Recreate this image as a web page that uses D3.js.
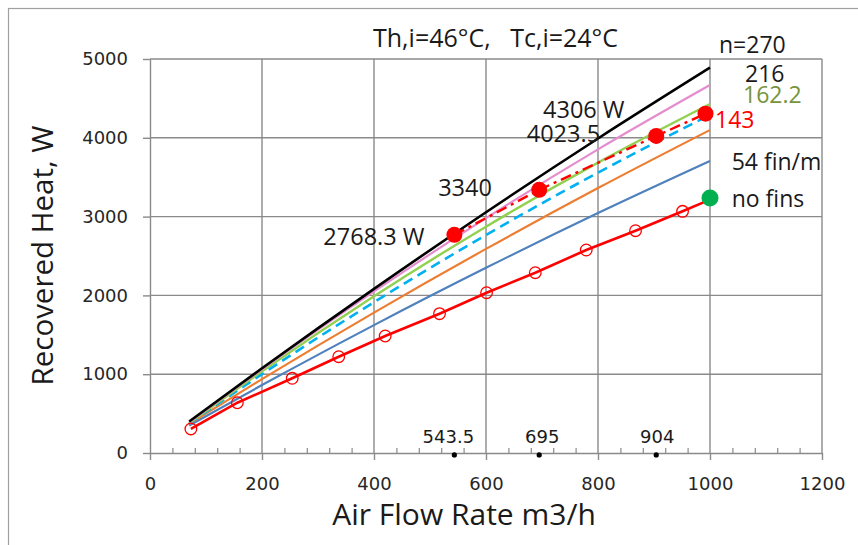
<!DOCTYPE html>
<html>
<head>
<meta charset="utf-8">
<script src="https://cdn.jsdelivr.net/npm/d3@7"></script>
<style>
  html, body { margin: 0; padding: 0; background: #fff; }
  svg { display: block; }
</style>
</head>
<body>
<svg id="chart" width="858" height="545"></svg>
<script>
// Axis ticks
const flowTicks = [0, 200, 400, 600, 800, 1000, 1200];
const heatTicks = [0, 1000, 2000, 3000, 4000, 5000];

// Model curves: recovered heat (W) vs air flow (m3/h) for each fin density
const airFlow  = [70, 200, 400, 600, 800, 1000];
const heat270  = [400, 1075, 2083, 3055, 3991, 4890];
const heat216  = [390, 1062, 2050, 2980, 3853, 4670];
const heat162  = [380, 1037, 1989, 2872, 3685, 4429];
const heat143  = [375, 1001, 1914, 2766, 3558, 4290];
const heatMid  = [370, 938, 1782, 2590, 3362, 4099];
const heat54   = [350, 862, 1623, 2350, 3045, 3706];

// Measured points, plain tube (no fins)
const noFinsFlow = [73, 156, 254, 337, 420, 517, 601, 688, 779, 867, 951];
const noFinsHeat = [305, 638, 948, 1222, 1485, 1768, 2034, 2288, 2576, 2821, 3067];
const noFinsEndFlow = [1000];
const noFinsEndHeat = [3215];
const noFinsRefFlow = [1000];
const noFinsRefHeat = [3236];

// Operating points for n = 143
const peakFlow = [543.5, 695, 904, 992];
const peakHeat = [2768.3, 3340, 4023.5, 4306];
const peakLabels = ["2768.3 W", "3340", "4023.5", "4306 W"];
const peakTrendFlow = [543.5, 695, 904, 992, 1000];
const peakTrendHeat = [2768.3, 3340, 4023.5, 4306, 4335];

// Flow-rate markers on the axis
const markFlow = [543.5, 695, 904];
const markHeat = [-25, -25, -25];
const markLabels = ["543.5", "695", "904"];

// Curve labels at the right end
const curveLabels = ["n=270", "216", "162.2", "143", "54 fin/m", "no fins"];

const svg = d3.select("#chart");
const W = 858, H = 545;
const x = d3.scaleLinear().domain([0, 1200]).range([150, 822]);
const y = d3.scaleLinear().domain([0, 5000]).range([453, 59]);

const gridColor = "#8a8a8a";
const tickFont = "'DejaVu Sans', Verdana, sans-serif";
const textFont = "'Open Sans', 'Liberation Sans', sans-serif";

// Frame
svg.append("rect").attr("x", 8.5).attr("y", 8.5).attr("width", W + 20).attr("height", H + 20)
  .attr("fill", "#fff").attr("stroke", "#a0a0a0").attr("stroke-width", 1.2);

// Grid
const grid = svg.append("g");
grid.selectAll("line.v").data(flowTicks.slice(1)).join("line")
  .attr("x1", d => x(d)).attr("x2", d => x(d))
  .attr("y1", y(5000)).attr("y2", y(0))
  .attr("stroke", gridColor).attr("stroke-width", 1.4);
grid.selectAll("line.h").data(heatTicks.slice(1)).join("line")
  .attr("x1", x(0)).attr("x2", x(1200))
  .attr("y1", d => y(d)).attr("y2", d => y(d))
  .attr("stroke", gridColor).attr("stroke-width", 1.4);

// Axes
function styleAxis(g) {
  g.select(".domain").attr("stroke", gridColor).attr("stroke-width", 1.4);
  g.selectAll(".tick line").attr("stroke", gridColor).attr("stroke-width", 1.4);
  g.selectAll(".tick text").attr("fill", "#262626")
    .style("font-family", tickFont).style("font-size", "18px");
}
svg.append("g").attr("transform", `translate(${x(0)},0)`)
  .call(d3.axisLeft(y).tickValues(heatTicks).tickFormat(d3.format("d"))
    .tickSize(7).tickPadding(15).tickSizeOuter(0))
  .call(styleAxis);
svg.append("g").attr("transform", `translate(0,${y(0)})`)
  .call(d3.axisBottom(x).tickValues(flowTicks).tickFormat(d3.format("d"))
    .tickSize(7).tickPadding(17).tickSizeOuter(0))
  .call(styleAxis);
// minor ticks pointing into the plot
svg.append("g").attr("transform", `translate(0,${y(0)})`)
  .call(d3.axisBottom(x).tickValues(d3.range(40, 1200, 40).filter(v => v % 200 !== 0))
    .tickSize(-5).tickFormat("").tickSizeOuter(0))
  .call(g => g.select(".domain").remove())
  .call(g => g.selectAll(".tick line").attr("stroke", gridColor).attr("stroke-width", 1.2));

// Model curves
const curves = [
  { h: heat54,  color: "#4f81bd", width: 2.2, dash: null },
  { h: heatMid, color: "#ed7d31", width: 2.2, dash: null },
  { h: heat143, color: "#00b0f0", width: 2.6, dash: "10,6" },
  { h: heat162, color: "#92d050", width: 2.4, dash: null },
  { h: heat216, color: "#e58ccf", width: 2.2, dash: null },
  { h: heat270, color: "#000000", width: 2.6, dash: null }
];
const line = d3.line().x(d => x(d[0])).y(d => y(d[1])).curve(d3.curveMonotoneX);
svg.append("g").selectAll("path").data(curves).join("path")
  .attr("d", c => line(airFlow.map((f, i) => [f, c.h[i]])))
  .attr("fill", "none").attr("stroke", c => c.color).attr("stroke-width", c => c.width)
  .attr("stroke-dasharray", c => c.dash);

// Operating-point trend (dash-dot)
svg.append("path")
  .attr("d", d3.line().x(d => x(d[0])).y(d => y(d[1]))(peakTrendFlow.map((f, i) => [f, peakTrendHeat[i]])))
  .attr("fill", "none").attr("stroke", "#ff0000").attr("stroke-width", 2.4)
  .attr("stroke-dasharray", "11,5,3,5");

// No-fins measured line and points
const noFinsLine = noFinsFlow.map((f, i) => [f, noFinsHeat[i]])
  .concat(noFinsEndFlow.map((f, i) => [f, noFinsEndHeat[i]]));
svg.append("path")
  .attr("d", d3.line().x(d => x(d[0])).y(d => y(d[1]))(noFinsLine))
  .attr("fill", "none").attr("stroke", "#ff0000").attr("stroke-width", 2.6);
svg.append("g").selectAll("circle").data(noFinsFlow.map((f, i) => [f, noFinsHeat[i]])).join("circle")
  .attr("cx", d => x(d[0])).attr("cy", d => y(d[1])).attr("r", 5.8)
  .attr("fill", "none").attr("stroke", "#ff0000").attr("stroke-width", 1.3);
svg.append("g").selectAll("circle").data(noFinsRefFlow.map((f, i) => [f, noFinsRefHeat[i]])).join("circle")
  .attr("cx", d => x(d[0])).attr("cy", d => y(d[1])).attr("r", 8.5)
  .attr("fill", "#00b050");

// Operating points
svg.append("g").selectAll("circle").data(peakFlow.map((f, i) => [f, peakHeat[i]])).join("circle")
  .attr("cx", d => x(d[0])).attr("cy", d => y(d[1])).attr("r", 8)
  .attr("fill", "#ff0000");

// Operating-point labels
const peakOffsets = [[-131, 10], [-101, 6], [-129.5, 6], [-162.5, 4.6]];
svg.append("g").selectAll("text").data(peakLabels).join("text")
  .attr("x", (d, i) => x(peakFlow[i]) + peakOffsets[i][0])
  .attr("y", (d, i) => y(peakHeat[i]) + peakOffsets[i][1])
  .text(d => d)
  .style("font-family", textFont).style("font-size", "23.5px").attr("fill", "#1a1a1a");

// Axis markers for the flow rates
svg.append("g").selectAll("circle").data(markFlow.map((f, i) => [f, markHeat[i]])).join("circle")
  .attr("cx", d => x(d[0])).attr("cy", d => y(d[1])).attr("r", 2.6).attr("fill", "#000");
svg.append("g").selectAll("text").data(markLabels).join("text")
  .attr("x", (d, i) => x(markFlow[i]) + [-6, 3, 1][i])
  .attr("y", y(0) - 10)
  .attr("text-anchor", "middle")
  .text(d => d)
  .style("font-family", tickFont).style("font-size", "18px").attr("fill", "#1a1a1a");

// Curve labels
const curveLabelPos = [[719, 53.3], [745, 81.7], [743, 103.3], [715, 128.3], [731.7, 170], [731.7, 206.7]];
const curveLabelColor = ["#1a1a1a", "#1a1a1a", "#77933c", "#ff0000", "#1a1a1a", "#1a1a1a"];
svg.append("g").selectAll("text").data(curveLabels).join("text")
  .attr("x", (d, i) => curveLabelPos[i][0]).attr("y", (d, i) => curveLabelPos[i][1])
  .attr("fill", (d, i) => curveLabelColor[i])
  .text(d => d)
  .style("font-family", textFont).style("font-size", "23px");

// Title
svg.append("text").attr("x", 373).attr("y", 46.7)
  .text("Th,i=46°C,\u00A0\u00A0\u00A0Tc,i=24°C")
  .style("font-family", textFont).style("font-size", "25px").attr("fill", "#1a1a1a");

// Axis titles
svg.append("text").attr("x", 464).attr("y", 525).attr("text-anchor", "middle")
  .text("Air Flow Rate m3/h")
  .style("font-family", textFont).style("font-size", "30px").attr("fill", "#1a1a1a");
svg.append("text").attr("transform", "translate(53,255.5) rotate(-90)").attr("text-anchor", "middle")
  .text("Recovered Heat, W")
  .style("font-family", textFont).style("font-size", "29.5px").attr("fill", "#1a1a1a");
</script>
</body>
</html>
